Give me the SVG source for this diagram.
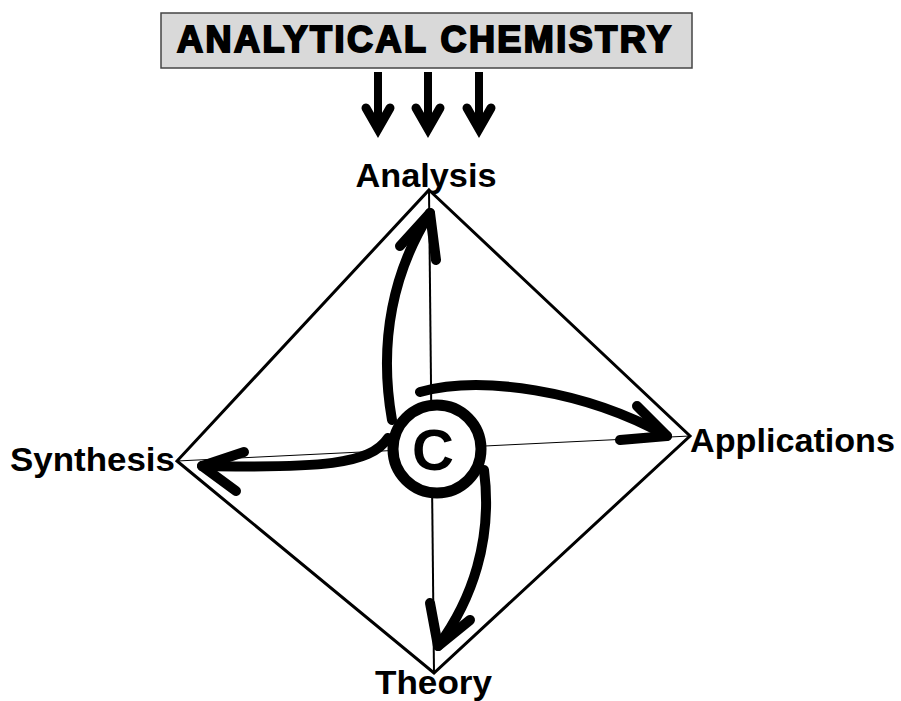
<svg xmlns="http://www.w3.org/2000/svg" width="901" height="701" viewBox="0 0 901 701">
<style>
.lbl{font-family:"Liberation Sans",Arial,sans-serif;font-weight:bold;font-size:34px;fill:#000}
.thick{fill:none;stroke:#000;stroke-width:10;stroke-linecap:round;stroke-linejoin:round}
.shaft{fill:none;stroke:#000;stroke-width:8}
.chev{fill:none;stroke:#000;stroke-width:9;stroke-linecap:round;stroke-linejoin:miter;stroke-miterlimit:10}
</style>
<rect width="901" height="701" fill="#fff"/>
<g id="title">
<rect x="161" y="13" width="531" height="55" fill="#d9d9d9" stroke="#444" stroke-width="1.5"/>
<text x="177" y="52" class="lbl" style="font-size:36px;stroke:#000;stroke-width:2" textLength="494" lengthAdjust="spacing">ANALYTICAL CHEMISTRY</text>
</g>
<g id="connectors">
<path class="shaft" d="M378,72 V129"/>
<path class="chev" d="M366,108 L378,129 L390,108"/>
<path class="shaft" d="M428,72 V129"/>
<path class="chev" d="M416,108 L428,129 L440,108"/>
<path class="shaft" d="M479,72 V129"/>
<path class="chev" d="M467,108 L479,129 L491,108"/>
<path d="M429,190 L690,436 L434,673 L177,461 Z" fill="none" stroke="#000" stroke-width="3" stroke-linejoin="miter"/>
<line x1="429" y1="190" x2="434" y2="673" stroke="#000" stroke-width="2"/>
<line x1="177" y1="461" x2="690" y2="436" stroke="#000" stroke-width="1"/>
<path class="thick" d="M392,420 C378,340 394,270 430,213"/>
<path class="thick" d="M400,246 L430,213 L436,260"/>
<path class="thick" d="M420,392 C480,375 585,390 667,436"/>
<path class="thick" d="M637,406 L667,436 L620,440"/>
<path class="thick" d="M484,470 C493,540 472,600 438,646"/>
<path class="thick" d="M430,603 L438,646 L470,620"/>
<path class="thick" d="M388,438 C370,465 320,468 202,466"/>
<path class="thick" d="M244,452 L202,466 L236,491"/>
</g>
<g id="center">
<circle cx="437" cy="449" r="44" fill="#fff" stroke="#000" stroke-width="11"/>
<text x="433" y="470" class="lbl" style="font-size:58px" text-anchor="middle">C</text>
</g>
<g id="analysis"><text x="426" y="187" class="lbl" text-anchor="middle" textLength="141" lengthAdjust="spacingAndGlyphs">Analysis</text></g>
<g id="synthesis"><text x="10" y="471" class="lbl" textLength="165" lengthAdjust="spacingAndGlyphs">Synthesis</text></g>
<g id="applications"><text x="690" y="452" class="lbl" textLength="205" lengthAdjust="spacingAndGlyphs">Applications</text></g>
<g id="theory"><text x="375" y="694" class="lbl" textLength="117" lengthAdjust="spacingAndGlyphs">Theory</text></g>
</svg>
